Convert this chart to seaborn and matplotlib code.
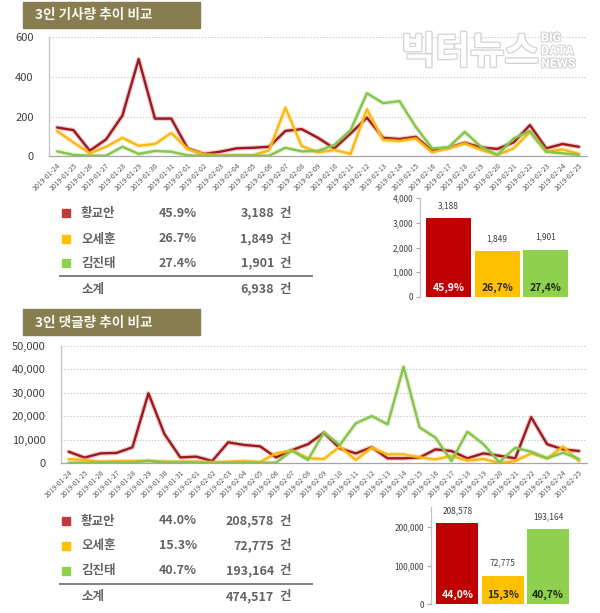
import numpy as np
import pandas as pd
import matplotlib
matplotlib.use('Agg')
import matplotlib.pyplot as plt
import matplotlib.patheffects as pe
from matplotlib.patches import Rectangle
from matplotlib.ticker import FuncFormatter
import seaborn as sns

# ---------------- data ----------------
dates = ['2019-01-24', '2019-01-25', '2019-01-26', '2019-01-27', '2019-01-28', '2019-01-29',
         '2019-01-30', '2019-01-31', '2019-02-01', '2019-02-02', '2019-02-03', '2019-02-04',
         '2019-02-05', '2019-02-06', '2019-02-07', '2019-02-08', '2019-02-09', '2019-02-10',
         '2019-02-11', '2019-02-12', '2019-02-13', '2019-02-14', '2019-02-15', '2019-02-16',
         '2019-02-17', '2019-02-18', '2019-02-19', '2019-02-20', '2019-02-21', '2019-02-22',
         '2019-02-23', '2019-02-24', '2019-02-25']
names = ['황교안', '오세훈', '김진태']

article_hwang = [145, 132, 28, 85, 205, 490, 190, 190, 40, 12, 23, 40, 43, 48, 128, 137, 93,
                 40, 115, 195, 93, 87, 98, 28, 43, 68, 45, 37, 70, 157, 40, 62, 48]
article_oh = [127, 70, 15, 48, 93, 53, 62, 118, 37, 10, 5, 5, 5, 30, 245, 52, 20,
              32, 12, 237, 82, 77, 90, 20, 40, 65, 32, 7, 40, 123, 23, 35, 12]
article_kim = [25, 7, 3, 3, 48, 12, 27, 23, 5, 2, 2, 3, 3, 3, 43, 25, 27,
               57, 132, 318, 268, 278, 148, 40, 45, 123, 48, 7, 90, 127, 23, 15, 7]

comment_hwang = [4800, 2300, 4100, 4300, 6700, 29700, 12400, 2400, 2700, 850, 8800, 7700, 7100,
                 2400, 5500, 8000, 12900, 6250, 4100, 6700, 2000, 2000, 2300, 5800, 5100, 2000,
                 4100, 3100, 2000, 19500, 8000, 5800, 5100]
comment_oh = [1700, 1300, 570, 850, 850, 850, 570, 570, 570, 280, 570, 850, 420, 4100, 5400, 2000,
              1700, 7000, 1300, 6500, 3700, 3700, 2400, 1550, 3000, 1000, 1700, 0, 850, 4100, 2000,
              7000, 850]
comment_kim = [100, 100, 100, 100, 100, 1000, 140, 280, 100, 0, 50, 50, 50, 140, 5300, 1300, 13000,
               7700, 16900, 20000, 16500, 41000, 15200, 10800, 850, 13300, 8100, 280, 6500, 4800,
               2000, 4400, 1700]

article_totals = [3188, 1849, 1901]
article_shares = ['45.9%', '26.7%', '27.4%']
article_bar_labels = ['45,9%', '26,7%', '27,4%']
article_sum = '6,938'

comment_totals = [208578, 72775, 193164]
comment_shares = ['44.0%', '15.3%', '40.7%']
comment_bar_labels = ['44,0%', '15,3%', '40,7%']
comment_sum = '474,517'

titles = ['3인 기사량 추이 비교', '3인 댓글량 추이 비교']
unit = '건'
subtotal = '소계'

# ---------------- style ----------------
sns.set_theme(style='white')
plt.rcParams['font.family'] = ['Noto Sans CJK KR', 'DejaVu Sans']

line_pal = {'황교안': '#a0181c', '오세훈': '#fbb910', '김진태': '#86c44a'}
bar_pal = {'황교안': '#c00000', '오세훈': '#ffc000', '김진태': '#8fd04f'}
sq_pal = {'황교안': '#c0393b', '오세훈': '#ffc000', '김진태': '#8fd04f'}
pct_col = {'황교안': 'white', '오세훈': '#2a2a2a', '김진태': '#1f2a14'}
tcol = '#636363'

W, H = 600, 613
fig = plt.figure(figsize=(6, 6.13), dpi=100)
fig.patch.set_facecolor('white')


def rect(l, t, r, b):
    return [l / W, 1 - b / H, (r - l) / W, (b - t) / H]


ov = fig.add_axes([0, 0, 1, 1])
ov.set_xlim(0, W)
ov.set_ylim(H, 0)
ov.axis('off')

comma = FuncFormatter(lambda v, p: f'{int(v):,}')


def banner(top, text):
    ov.add_patch(Rectangle((23, top), 177, 26, color='#877d4e', zorder=1))
    ov.text(35, top + 13.5, text, color='#f7f7f2', fontsize=9.8, fontweight='bold',
            va='center', ha='left', zorder=2)


def line_panel(box, series, ymax, yticks):
    ax = fig.add_axes(rect(*box))
    ax.set_facecolor('none')
    df = pd.concat([pd.DataFrame({'date': dates, 'value': s, 'name': n})
                    for n, s in zip(names, series)], ignore_index=True)
    sns.lineplot(data=df, x='date', y='value', hue='name', hue_order=names,
                 palette=line_pal, linewidth=1.7, sort=False, legend=False, ax=ax)
    for ln in ax.lines:
        ln.set_path_effects([pe.Stroke(linewidth=3.4, foreground=ln.get_color(), alpha=0.22),
                             pe.Normal()])
    ax.set_xlim(-0.5, len(dates) - 0.5)
    ax.set_ylim(0, ymax)
    ax.set_yticks(yticks)
    ax.yaxis.set_major_formatter(comma)
    ax.set_xlabel('')
    ax.set_ylabel('')
    ax.yaxis.grid(True, linestyle=(0, (1.2, 1.6)), color='#c9c9c9', linewidth=0.8)
    ax.xaxis.grid(False)
    ax.set_xticks(np.arange(-0.5, len(dates), 1), minor=True)
    ax.tick_params(axis='x', which='major', length=0, labelsize=5, labelcolor='#5a5a5a', pad=4)
    ax.tick_params(axis='x', which='minor', length=3, color='#a6a6a6', width=0.8, direction='out')
    ax.tick_params(axis='y', length=0, labelsize=8, labelcolor='#404040', pad=11)
    for lab in ax.get_xticklabels():
        lab.set_rotation(45)
        lab.set_ha('right')
        lab.set_va('top')
        lab.set_rotation_mode('anchor')
    for s in ['top', 'right']:
        ax.spines[s].set_visible(False)
    ax.spines['left'].set_color('#c4c4c4')
    ax.spines['bottom'].set_color('#a6a6a6')
    ax.spines['left'].set_linewidth(0.9)
    ax.spines['bottom'].set_linewidth(0.9)
    return ax


def bar_panel(box, totals, ymax, yticks, xlim, labels):
    ax = fig.add_axes(rect(*box))
    ax.set_facecolor('none')
    bdf = pd.DataFrame({'name': names, 'count': totals})
    sns.barplot(data=bdf, x='name', y='count', hue='name', hue_order=names, order=names,
                palette=bar_pal, saturation=1, width=0.92, legend=False, edgecolor='none', ax=ax)
    ax.set_xlim(*xlim)
    ax.set_ylim(0, ymax)
    ax.set_yticks(yticks)
    ax.yaxis.set_major_formatter(comma)
    ax.set_xticks([])
    ax.set_xlabel('')
    ax.set_ylabel('')
    ax.tick_params(axis='y', length=3, width=0.8, color='#a6a6a6', labelsize=6,
                   labelcolor='#404040', pad=2, left=True)
    for s in ['top', 'right', 'bottom']:
        ax.spines[s].set_visible(False)
    ax.spines['left'].set_color('#c4c4c4')
    ax.spines['left'].set_linewidth(0.9)
    for i, (n, v, lab) in enumerate(zip(names, totals, labels)):
        ax.annotate(f'{v:,}', (i, v), xytext=(0, 6), textcoords='offset points',
                    ha='center', va='bottom', fontsize=6, color='#404040')
        ax.annotate(lab, (i, 0), xytext=(0, 6.5), textcoords='offset points',
                    ha='center', va='center', fontsize=7.5, fontweight='bold', color=pct_col[n])
    return ax


def table(rows_y, line_y, sum_y, shares, totals, total_sum):
    for y, n, sh, tot in zip(rows_y, names, shares, totals):
        ov.add_patch(Rectangle((62, y - 4), 8, 8, color=sq_pal[n]))
        ov.text(81, y, n, va='center', ha='left', fontsize=9, fontweight='bold', color=tcol)
        ov.text(159, y, sh, va='center', ha='left', fontsize=9, fontweight='bold', color=tcol)
        ov.text(274, y, f'{tot:,}', va='center', ha='right', fontsize=9, fontweight='bold', color=tcol)
        ov.text(279, y, unit, va='center', ha='left', fontsize=9, fontweight='bold', color=tcol)
    ov.plot([59, 313], [line_y, line_y], color='#808080', lw=1.4, solid_capstyle='butt')
    ov.text(81, sum_y, subtotal, va='center', ha='left', fontsize=9, fontweight='bold', color=tcol)
    ov.text(274, sum_y, total_sum, va='center', ha='right', fontsize=9, fontweight='bold', color=tcol)
    ov.text(279, sum_y, unit, va='center', ha='left', fontsize=9, fontweight='bold', color=tcol)


# ---------------- section 1 ----------------
banner(2, titles[0])
line_panel((49, 37.3, 587, 156.3), [article_hwang, article_oh, article_kim], 600, [0, 200, 400, 600])
table([213.3, 239, 263.3], 276, 289, article_shares, article_totals, article_sum)
bar_panel((420, 198.3, 572, 296.7), article_totals, 4000, [0, 1000, 2000, 3000, 4000],
          (-0.59, 2.54), article_bar_labels)

# ---------------- section 2 ----------------
banner(309, titles[1])
line_panel((60.7, 345.7, 587, 463), [comment_hwang, comment_oh, comment_kim], 50000,
           [0, 10000, 20000, 30000, 40000, 50000])
table([521, 545.7, 570.7], 584, 596.7, comment_shares, comment_totals, comment_sum)
bar_panel((431, 507.3, 575, 604.3), comment_totals, 250000, [0, 100000, 200000],
          (-0.58, 2.59), comment_bar_labels)

# ---------------- watermark ----------------
wm = [pe.withStroke(linewidth=2.0, foreground='#d6d6d6')]
fig.text(401 / W, 1 - 52 / H, '빅터뉴스', fontsize=27, fontweight='bold', color='white',
         ha='left', va='center', path_effects=wm, zorder=5)
fig.text(541 / W, 1 - 51 / H, 'BIG\nDATA\nNEWS', fontsize=9, fontweight='bold', color='white',
         ha='left', va='center', linespacing=1.0, family=['Roboto', 'DejaVu Sans'],
         path_effects=[pe.withStroke(linewidth=1.5, foreground='#d2d2d2')], zorder=5)

fig.savefig('out.png', dpi=100, facecolor='white')
